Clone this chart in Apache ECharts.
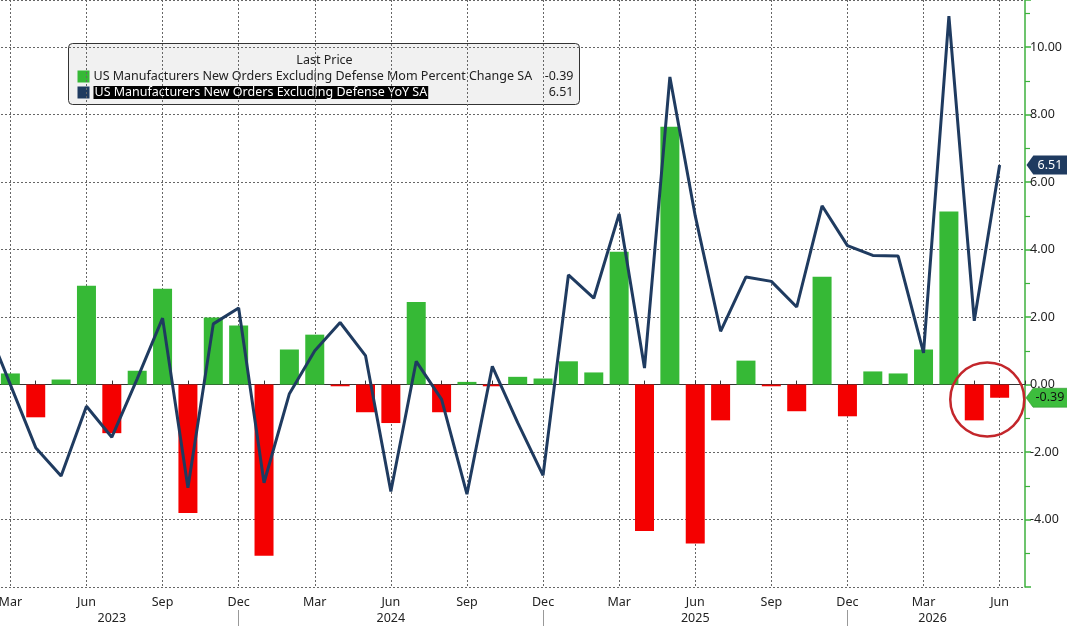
<!DOCTYPE html>
<html>
<head>
<meta charset="utf-8">
<script src="https://cdn.jsdelivr.net/npm/echarts@6/dist/echarts.min.js"></script>
<style>
html,body{margin:0;padding:0;background:#fff;overflow:hidden;width:1067px;height:626px;position:relative;}
#chart{position:absolute;left:-15px;top:0;width:1082px;height:626px;}
</style>
</head>
<body>
<div id="chart"></div>
<script>
// Monthly categories: Feb 2023 (just off the left edge) ... Jul 2026 (right edge, no data)
var months = [
  '2023-02','2023-03','2023-04','2023-05','2023-06','2023-07','2023-08','2023-09','2023-10','2023-11','2023-12',
  '2024-01','2024-02','2024-03','2024-04','2024-05','2024-06','2024-07','2024-08','2024-09','2024-10','2024-11','2024-12',
  '2025-01','2025-02','2025-03','2025-04','2025-05','2025-06','2025-07','2025-08','2025-09','2025-10','2025-11','2025-12',
  '2026-01','2026-02','2026-03','2026-04','2026-05','2026-06','2026-07'
];
var monthNames = ['Jan','Feb','Mar','Apr','May','Jun','Jul','Aug','Sep','Oct','Nov','Dec'];

// MoM percent change (bars)
var momValues = [
  null, 0.33, -0.97, 0.15, 2.93, -1.44, 0.41, 2.84, -3.81, 1.99, 1.75,
  -5.07, 1.04, 1.48, -0.05, -0.82, -1.14, 2.45, -0.82, 0.08, -0.05, 0.23, 0.18,
  0.69, 0.36, 3.94, -4.34, 7.64, -4.71, -1.06, 0.71, -0.05, -0.79, 3.20, -0.94,
  0.39, 0.33, 1.04, 5.13, -1.06, -0.39, null
];
// YoY (line)
var yoyValues = [
  1.86, 0.00, -1.87, -2.71, -0.64, -1.56, 0.17, 1.97, -3.06, 1.80, 2.27,
  -2.91, -0.27, 1.00, 1.84, 0.86, -3.17, 0.69, -0.44, -3.25, 0.54, -1.13, -2.69,
  3.25, 2.56, 5.06, 0.49, 9.12, 5.00, 1.58, 3.19, 3.06, 2.30, 5.30, 4.12,
  3.83, 3.81, 0.94, 10.92, 1.89, 6.51, null
];
var seriesNames = [
  'US Manufacturers New Orders Excluding Defense Mom Percent Change SA',
  'US Manufacturers New Orders Excluding Defense YoY SA'
];
var lastMom = -0.39;
var lastYoy = 6.51;
var yTickLabels = [-6, -4, -2, 0, 2, 4, 6, 8, 10];
// year label positions (category); year separators drawn at Dec
var yearLabelAt = {'2023-07':'2023','2024-06':'2024','2025-06':'2025','2026-03':'2026'};

var GREEN = '#36b936', RED = '#f40000', NAVY = '#1f3b60';
var FONT = 'Noto Sans';
var SHIFT = 15; // chart canvas starts 15px left of the page

function monthOf(v){ return parseInt(v.split('-')[1],10); }
function isQuarterMonth(idx, v){ var m = monthOf(v); return m===3||m===6||m===9||m===12; }
function isDec(idx, v){ return monthOf(v)===12; }

var chart = echarts.init(document.getElementById('chart'));
var lf = '12.5px "' + FONT + '"';
var option = {
  animation: false,
  backgroundColor: '#ffffff',
  grid: {left: 0, right: 42, top: 0, bottom: 39, containLabel: false},
  xAxis: [{
    type: 'category',
    data: months,
    boundaryGap: false,
    position: 'bottom',
    offset: 5,
    axisLine: {show: true, lineStyle: {color: '#333', width: 1}},
    axisTick: {show: true, interval: 0, inside: true, length: 4, lineStyle: {color: '#333'}},
    axisLabel: {
      interval: isQuarterMonth,
      formatter: function(v){ return monthNames[monthOf(v)-1]; },
      color: '#222', fontFamily: FONT, fontSize: 12.5, margin: 4
    },
    splitLine: {show: true, interval: isQuarterMonth, lineStyle: {color: '#666', type: [2,2], width: 1}}
  },{
    type: 'category',
    data: months,
    boundaryGap: false,
    position: 'bottom',
    offset: 23,
    axisLine: {show: false},
    axisTick: {show: true, interval: isDec, length: 17, lineStyle: {color: '#999'}},
    axisLabel: {
      interval: function(idx, v){ return !!yearLabelAt[v]; },
      formatter: function(v){ return v==='2026-03' ? '{s|' + yearLabelAt[v] + '}' : yearLabelAt[v]; },
      rich: {s: {padding: [0,0,0,18], color: '#222', fontFamily: FONT, fontSize: 12.5}},
      color: '#222', fontFamily: FONT, fontSize: 12.5, margin: 2
    },
    splitLine: {show: false}
  }],
  yAxis: {
    type: 'value',
    position: 'right',
    min: -6, max: 11.4, interval: 2,
    axisLine: {show: true, lineStyle: {color: '#3cb03c', width: 1.5}},
    axisTick: {show: true, length: 6, lineStyle: {color: '#3cb03c', width: 1.5}},
    minorTick: {show: true, splitNumber: 2, length: 5, lineStyle: {color: '#3cb03c', width: 1.2}},
    axisLabel: {
      formatter: function(v){ return yTickLabels.indexOf(v) >= 0 && v > -6 ? v.toFixed(2) : ''; },
      color: '#222', fontFamily: FONT, fontSize: 12.5, margin: 5
    },
    splitLine: {show: true, lineStyle: {color: '#666', type: [2,2], width: 1}}
  },
  series: [{
    name: seriesNames[0],
    type: 'bar',
    data: momValues,
    barWidth: 19,
    clip: false,
    itemStyle: {color: function(p){ return p.value >= 0 ? GREEN : RED; }},
    z: 2,
    markPoint: {
      silent: true,
      data: [{
        coord: ['2026-05', -0.44],
        symbol: 'circle', symbolSize: 74, symbolOffset: [13, 0],
        itemStyle: {color: 'rgba(0,0,0,0)', borderColor: '#c3262b', borderWidth: 2.5},
        label: {show: false}
      },{
        coord: ['2026-07', lastMom],
        symbol: 'path://M0,10 L8,0 L48,0 L48,20 L8,20 Z', symbolKeepAspect: false,
        symbolSize: [42, 19], symbolOffset: [22, 0],
        itemStyle: {color: '#3dbd3d', borderColor: '#2b8f2b', borderWidth: 0.5},
        label: {show: true, position: 'inside', offset: [3, 0], formatter: lastMom.toFixed(2), color: '#111', fontFamily: FONT, fontSize: 12.5}
      }]
    }
  },{
    name: seriesNames[1],
    type: 'line',
    data: yoyValues,
    symbol: 'none',
    clip: false,
    lineStyle: {color: NAVY, width: 3},
    itemStyle: {color: NAVY},
    z: 3,
    markPoint: {
      silent: true,
      data: [{
        coord: ['2026-07', lastYoy],
        symbol: 'path://M0,10 L8,0 L48,0 L48,20 L8,20 Z', symbolKeepAspect: false,
        symbolSize: [41, 19], symbolOffset: [22, 0],
        itemStyle: {color: NAVY},
        label: {show: true, position: 'inside', offset: [3, 0], formatter: lastYoy.toFixed(2), color: '#fff', fontFamily: FONT, fontSize: 12.5}
      }]
    }
  }],
  graphic: [{
    type: 'group', left: 68 + SHIFT, top: 43, z: 50,
    children: [
      {type: 'rect', shape: {x: 0, y: 0, width: 511, height: 61, r: 4},
       style: {fill: 'rgba(225,225,225,0.45)', stroke: '#333', lineWidth: 1}},
      {type: 'text', x: 256, y: 17, style: {text: 'Last Price', fill: '#222', font: lf, textAlign: 'center', textVerticalAlign: 'middle'}},
      {type: 'rect', shape: {x: 9, y: 27, width: 12, height: 12}, style: {fill: GREEN}},
      {type: 'text', x: 25, y: 33, style: {text: seriesNames[0], fill: '#222', font: lf, textVerticalAlign: 'middle'}},
      {type: 'text', x: 505, y: 33, style: {text: lastMom.toFixed(2), fill: '#222', font: lf, textAlign: 'right', textVerticalAlign: 'middle'}},
      {type: 'rect', shape: {x: 9, y: 43, width: 12, height: 12}, style: {fill: NAVY}},
      {type: 'text', x: 25, y: 49, style: {text: seriesNames[1], fill: '#fff', backgroundColor: '#000', padding: [0, 1, 0, 1], font: lf, textVerticalAlign: 'middle'}},
      {type: 'text', x: 505, y: 49, style: {text: lastYoy.toFixed(2), fill: '#222', font: lf, textAlign: 'right', textVerticalAlign: 'middle'}}
    ]
  }]
};
chart.setOption(option);
</script>
</body>
</html>
